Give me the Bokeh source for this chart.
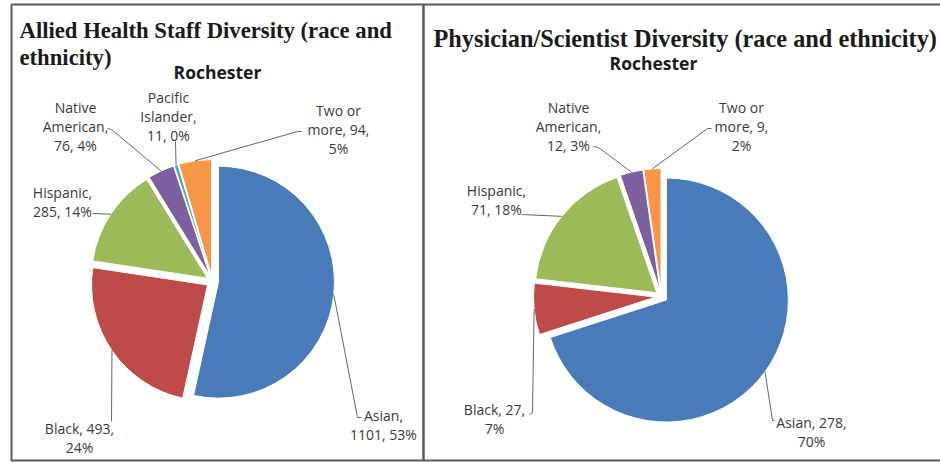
import textwrap
import numpy as np
from bokeh.plotting import figure
from bokeh.models import Range1d, BoxAnnotation, Label
from bokeh.core.properties import value
from bokeh.embed import file_html
from bokeh.resources import INLINE

# ---------------- data ----------------
allied_categories = ["Asian", "Black", "Hispanic", "Native American", "Pacific Islander", "Two or more"]
allied_counts = [1101, 493, 285, 76, 11, 94]
allied_pcts = [53, 24, 14, 4, 0, 5]

phys_categories = ["Asian", "Black", "Hispanic", "Native American", "Two or more"]
phys_counts = [278, 27, 71, 12, 9]
phys_pcts = [70, 7, 18, 3, 2]

allied_title = ["Allied Health Staff Diversity (race and", "ethnicity)"]
phys_title = ["Physician/Scientist Diversity (race and ethnicity)"]
subtitle = "Rochester"

# ---------------- style / layout ----------------
color_map = {
    "Asian": "#4A7BB9",
    "Black": "#BE4B48",
    "Hispanic": "#9BBB59",
    "Native American": "#7D60A0",
    "Pacific Islander": "#4BACC6",
    "Two or more": "#F79646",
}
W, H = 940, 462
LABEL_FONT = "Open Sans"
LABEL_SIZE = "14px"
LABEL_COLOR = "#3a3a3a"
LEADER_COLOR = "#666666"


def Y(y_down):
    return H - y_down


p = figure(width=W, height=H, x_range=Range1d(0, W), y_range=Range1d(0, H),
           output_backend="svg", toolbar_location=None, min_border=0,
           x_axis_location=None, y_axis_location=None)
p.grid.visible = False
p.outline_line_color = None
p.background_fill_color = "white"
p.border_fill_color = "white"

# panel borders
p.add_layout(BoxAnnotation(left=11, right=423, bottom=Y(460), top=Y(4),
                           fill_color=None, line_color="#5a5a5a", line_alpha=1.0, line_width=2))
p.add_layout(BoxAnnotation(left=423, right=970, bottom=Y(460), top=Y(4),
                           fill_color=None, line_color="#5a5a5a", line_alpha=1.0, line_width=2))


def draw_pie(cats, counts, pcts, cx, cy, r, d, wraps, label_pos, elbows, ends):
    counts = np.asarray(counts, dtype=float)
    frac = counts / counts.sum()
    cum = np.concatenate([[0.0], np.cumsum(frac)])
    a0 = cum[:-1] * 2 * np.pi
    a1 = cum[1:] * 2 * np.pi
    mid = (a0 + a1) / 2
    ox = cx + d * np.sin(mid)
    oy = Y(cy) + d * np.cos(mid)
    p.wedge(x=ox, y=oy, radius=r,
            start_angle=np.pi / 2 - a0, end_angle=np.pi / 2 - a1, direction="clock",
            fill_color=[color_map[c] for c in cats], line_color="white", line_width=1)
    mx = ox + r * np.sin(mid)
    my = oy + r * np.cos(mid)
    xs, ys = [], []
    for i in range(len(cats)):
        ex, ey = elbows[i]
        lx, ly = ends[i]
        xs.append([mx[i], ex, lx])
        ys.append([my[i], Y(ey), Y(ly)])
    p.multi_line(xs=xs, ys=ys, line_color=LEADER_COLOR, line_width=1)
    texts = []
    for c, n, pc, w in zip(cats, counts, pcts, wraps):
        full = f"{c}, {int(n)}, {pc}%"
        texts.append("\n".join(textwrap.wrap(full, width=w)))
    p.text(x=[lp[0] for lp in label_pos], y=[Y(lp[1]) for lp in label_pos], text=texts,
           text_align="center", text_baseline="middle", text_font=value(LABEL_FONT),
           text_font_size=LABEL_SIZE, text_color=LABEL_COLOR, text_line_height=1.0)


# left pie
draw_pie(allied_categories, allied_counts, allied_pcts,
         cx=212, cy=281, r=116, d=6,
         wraps=[9, 11, 9, 9, 9, 9],
         label_pos=[(383, 424), (79, 437.5), (62, 201.5), (75, 125.5), (168, 115.5), (338, 128.5)],
         elbows=[(357, 417), (111, 421), (94, 213), (111, 129), (175, 141), (297, 131)],
         ends=[(361, 417), (111, 421), (92, 213), (107, 128), (175, 141), (301, 131)])

# right pie
draw_pie(phys_categories, phys_counts, phys_pcts,
         cx=661, cy=296, r=122, d=6,
         wraps=[11, 10, 9, 9, 9],
         label_pos=[(811, 431), (494, 418), (496, 199.5), (568, 126), (741, 126)],
         elbows=[(772, 420), (532, 412), (522, 214), (598, 147), (707, 128)],
         ends=[(774, 420), (529, 414), (521, 214), (593, 146), (711, 128)])

# titles
for i, t in enumerate(allied_title):
    p.add_layout(Label(x=19, y=Y(30 + 27 * i), text=t, text_font="Liberation Serif",
                       text_font_style="bold", text_font_size="22.7px", text_color="#1a1a1a",
                       text_baseline="alphabetic"))
p.add_layout(Label(x=433, y=Y(38), text=phys_title[0], text_font="Liberation Serif",
                   text_font_style="bold", text_font_size="24.3px", text_color="#1a1a1a",
                   text_baseline="alphabetic"))

# subtitles
p.add_layout(Label(x=217, y=Y(71), text=subtitle, text_font="Open Sans", text_font_style="bold",
                   text_font_size="17.5px", text_color="#1a1a1a",
                   text_align="center", text_baseline="middle"))
p.add_layout(Label(x=653, y=Y(62), text=subtitle, text_font="Open Sans", text_font_style="bold",
                   text_font_size="17.5px", text_color="#1a1a1a",
                   text_align="center", text_baseline="middle"))

open("out.html", "w").write(file_html(p, INLINE))
